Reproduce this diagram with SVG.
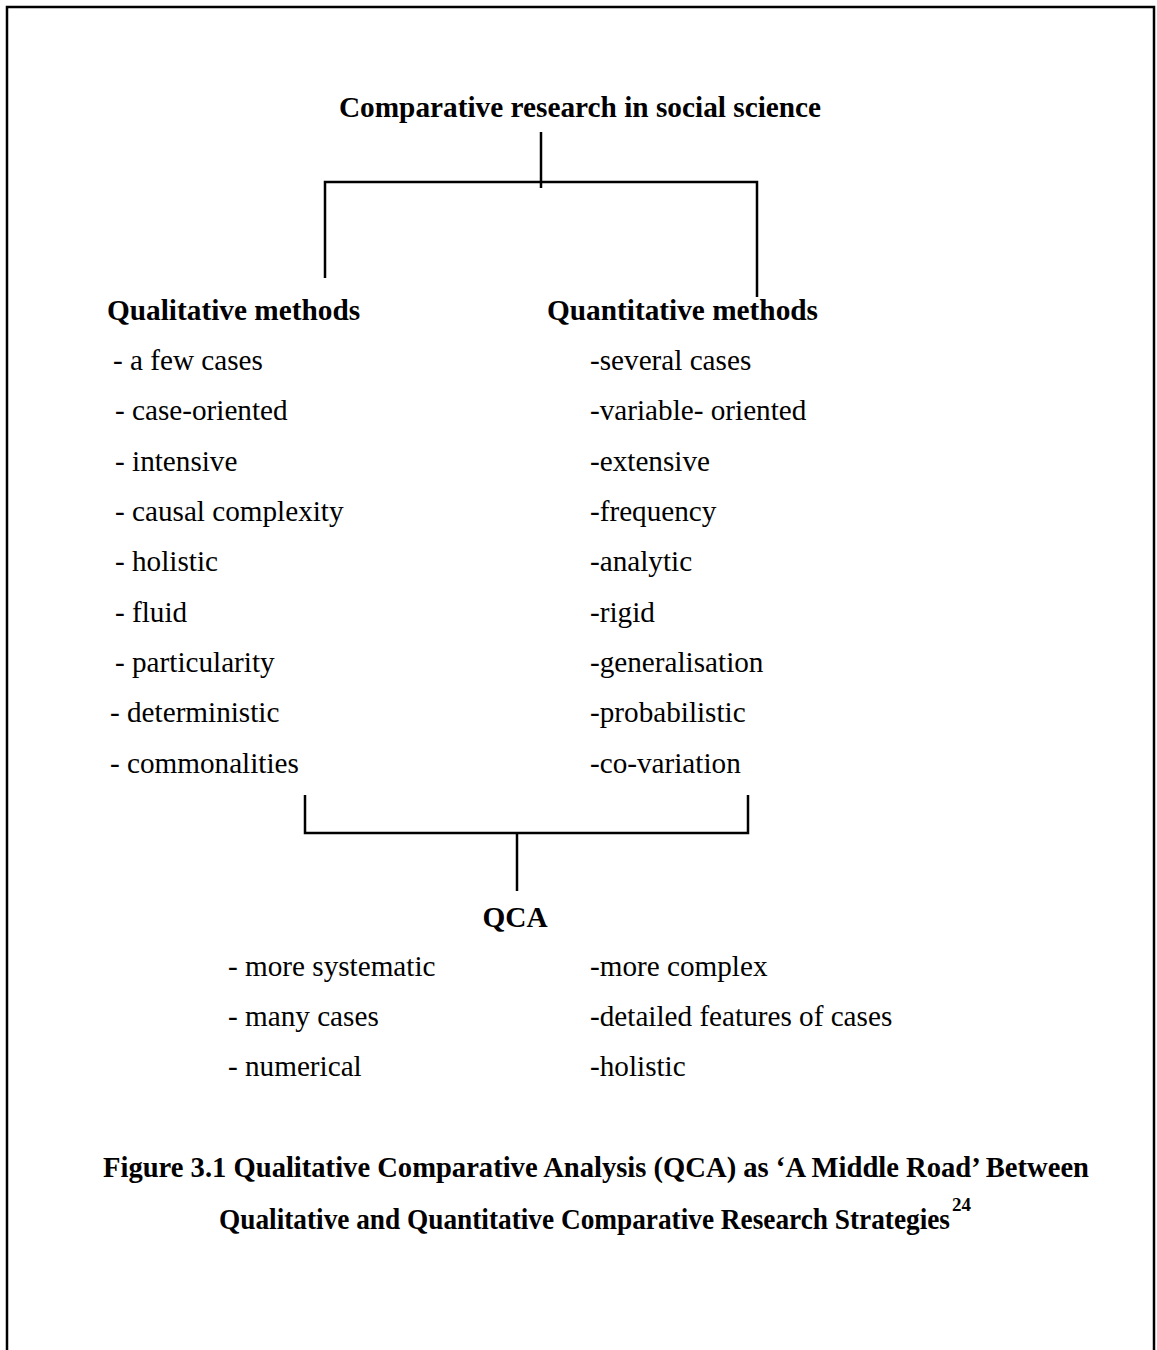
<svg xmlns="http://www.w3.org/2000/svg" width="1157" height="1350" viewBox="0 0 1157 1350">
<style>
text{font-family:"Liberation Serif","Times New Roman",serif;fill:#000;}
.h{font-size:29.3px;font-weight:bold;}
.b{font-size:29.2px;}
.c{font-size:29px;font-weight:bold;}
.sup{font-size:19px;font-weight:bold;}
.ln{stroke:#000;stroke-width:2.5;fill:none;}
</style>
<rect x="0" y="0" width="1157" height="1350" fill="#fff"/>
<rect x="7" y="7" width="1147" height="1360" fill="none" stroke="#000" stroke-width="2.5"/>
<g id="connectors">
<path class="ln" d="M541,132 V188"/>
<path class="ln" d="M325,278 V182 H757 V297"/>
<path class="ln" d="M305,795 V833 H748 V795"/>
<path class="ln" d="M517,833 V891"/>
</g>
<g id="root"><text class="h" x="580" y="117" text-anchor="middle">Comparative research in social science</text></g>
<g id="qualitative">
<text class="h" x="107" y="320">Qualitative methods</text>
<text class="b" x="113" y="370">- a few cases</text>
<text class="b" x="115" y="420">- case-oriented</text>
<text class="b" x="115" y="471">- intensive</text>
<text class="b" x="115" y="521">- causal complexity</text>
<text class="b" x="115" y="571">- holistic</text>
<text class="b" x="115" y="622">- fluid</text>
<text class="b" x="115" y="672">- particularity</text>
<text class="b" x="110" y="722">- deterministic</text>
<text class="b" x="110" y="773">- commonalities</text>
</g>
<g id="quantitative">
<text class="h" x="547" y="320">Quantitative methods</text>
<text class="b" x="590" y="370">-several cases</text>
<text class="b" x="590" y="420">-variable- oriented</text>
<text class="b" x="590" y="471">-extensive</text>
<text class="b" x="590" y="521">-frequency</text>
<text class="b" x="590" y="571">-analytic</text>
<text class="b" x="590" y="622">-rigid</text>
<text class="b" x="590" y="672">-generalisation</text>
<text class="b" x="590" y="722">-probabilistic</text>
<text class="b" x="590" y="773">-co-variation</text>
</g>
<g id="qca">
<text class="h" x="515" y="927" text-anchor="middle">QCA</text>
<text class="b" x="228" y="976">- more systematic</text>
<text class="b" x="228" y="1026">- many cases</text>
<text class="b" x="228" y="1076">- numerical</text>
<text class="b" x="590" y="976">-more complex</text>
<text class="b" x="590" y="1026">-detailed features of cases</text>
<text class="b" x="590" y="1076">-holistic</text>
</g>
<g id="caption">
<text class="c" x="103" y="1177" textLength="986" lengthAdjust="spacingAndGlyphs">Figure 3.1 Qualitative Comparative Analysis (QCA) as ‘A Middle Road’ Between</text>
<text class="c" x="219" y="1229" textLength="731" lengthAdjust="spacingAndGlyphs">Qualitative and Quantitative Comparative Research Strategies</text>
<text class="sup" x="952" y="1211">24</text>
</g>
</svg>
